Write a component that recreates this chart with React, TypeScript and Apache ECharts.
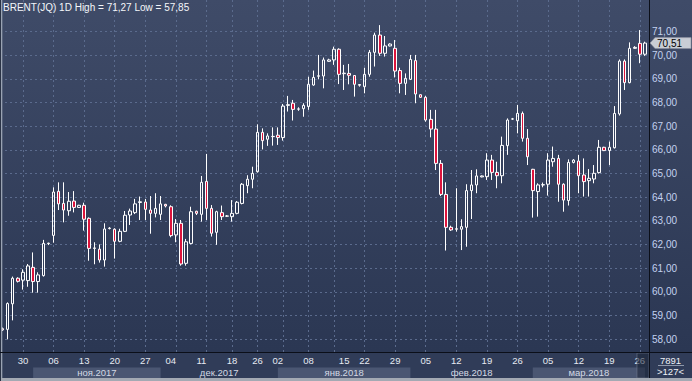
import React, { useEffect, useRef } from 'react';
import * as echarts from 'echarts';

// ---- candle data (daily, left to right) ----
const opens = [
  58.45, 58.42, 59.5, 60.58, 60.5, 60.48, 61.04, 60.44, 60.69, 62.04,
  62.39, 64.25, 63.74, 63.43, 63.84, 63.57, 63.66, 63.11, 61.84, 61.81,
  61.35, 62.68, 62.65, 62.14, 62.56, 63.25, 63.35, 63.78, 63.8, 63.46,
  63.32, 63.28, 63.7, 63.6, 62.41, 62.9, 61.21, 62.05, 63.41, 63.28,
  64.67, 63.53, 62.52, 63.35, 63.2, 63.18, 63.32, 63.74, 64.49, 64.76,
  65.08, 66.74, 66.45, 66.56, 66.62, 66.52, 67.88, 67.97, 67.72, 67.74,
  67.83, 68.74, 69.11, 69.12, 69.74, 69.8, 70.25, 69.22, 69.23, 69.14,
  68.73, 68.67, 69.19, 70.12, 70.85, 70.08, 70.39, 70.29, 69.35, 68.81,
  68.98, 69.77, 68.33, 68.22, 67.29, 66.88, 65.43, 64.12, 62.73, 62.65,
  62.65, 62.73, 64.28, 64.52, 64.86, 64.87, 65.57, 65.05, 64.91, 66.18,
  67.3, 67.23, 67.54, 66.49, 65.18, 64.24, 64.52, 64.55, 65.5, 65.64,
  64.55, 63.86, 65.47, 65.53, 64.94, 64.7, 64.77, 65.04, 66.11, 65.97,
  66.09, 67.52, 69.75, 68.84, 70.29, 70.5, 70.04,
];
const closes = [
  58.4, 59.51, 60.58, 60.45, 60.83, 61.1, 60.44, 60.72, 62.05, 62.06,
  64.22, 63.72, 63.46, 63.83, 63.57, 63.66, 63.07, 61.84, 61.86, 61.35,
  62.66, 62.7, 62.14, 62.56, 63.24, 63.42, 63.72, 63.81, 63.49, 63.32,
  63.53, 63.72, 63.63, 62.38, 62.9, 61.18, 62.12, 63.39, 63.32, 64.63,
  63.53, 62.48, 63.39, 63.18, 63.21, 63.32, 63.79, 64.55, 64.76, 65.01,
  66.74, 66.39, 66.59, 66.57, 66.52, 67.85, 67.91, 67.71, 67.73, 67.88,
  68.77, 69.06, 69.13, 69.8, 69.8, 70.25, 69.19, 69.24, 69.15, 68.77,
  68.76, 69.19, 70.12, 70.85, 70.08, 70.39, 70.47, 69.33, 68.81, 69.02,
  69.82, 68.36, 68.22, 67.26, 66.88, 65.43, 64.12, 62.73, 62.62, 62.67,
  62.76, 64.28, 64.52, 64.9, 64.9, 65.57, 65.05, 64.91, 66.19, 67.26,
  67.31, 67.54, 66.49, 65.71, 64.28, 64.52, 64.53, 65.57, 65.64, 64.55,
  63.88, 65.47, 65.57, 64.91, 64.66, 64.8, 65.01, 66.11, 65.97, 66.11,
  67.54, 69.75, 68.84, 70.29, 70.33, 70.04, 70.51,
];
const lows = [
  58.35, 58.0, 58.8, 60.4, 60.1, 60.22, 59.97, 59.97, 60.65, 61.98,
  62.08, 63.46, 62.94, 63.22, 63.36, 63.55, 62.59, 61.32, 61.17, 61.24,
  61.07, 62.64, 61.41, 62.1, 62.53, 62.83, 63.29, 63.04, 63.04, 62.46,
  63.15, 63.04, 63.57, 62.31, 62.1, 61.11, 61.11, 62.01, 63.25, 62.97,
  63.04, 62.34, 61.99, 63.04, 63.17, 62.97, 63.28, 63.7, 64.17, 64.38,
  65.04, 66.02, 66.17, 66.18, 66.21, 66.39, 67.62, 67.24, 67.65, 67.4,
  67.69, 68.71, 68.98, 68.6, 69.72, 69.59, 68.78, 68.53, 68.77, 68.25,
  68.67, 68.39, 69.09, 69.52, 69.97, 69.94, 70.37, 69.06, 68.39, 68.32,
  68.95, 67.97, 68.2, 67.19, 66.53, 65.15, 64.05, 61.75, 62.58, 62.55,
  61.77, 61.91, 63.08, 64.17, 64.84, 64.73, 64.73, 64.38, 64.59, 65.79,
  67.27, 66.7, 66.35, 65.36, 63.14, 63.18, 64.42, 64.07, 65.29, 63.81,
  63.39, 63.65, 65.43, 64.17, 64.03, 64.03, 64.59, 65.0, 65.95, 65.36,
  66.06, 67.45, 68.53, 68.81, 70.27, 69.66, 69.97,
];
const highs = [
  58.5, 59.56, 60.65, 60.62, 60.96, 61.18, 61.67, 60.83, 62.2, 62.08,
  64.42, 64.63, 64.63, 64.22, 64.26, 63.68, 63.77, 63.15, 62.1, 62.01,
  62.9, 62.74, 62.69, 62.67, 63.42, 63.52, 63.93, 64.03, 63.93, 64.05,
  64.17, 64.05, 63.72, 63.66, 63.08, 63.04, 62.24, 63.6, 63.43, 64.9,
  65.83, 63.67, 63.43, 63.65, 63.25, 63.88, 63.84, 64.6, 64.93, 65.29,
  67.08, 66.91, 66.7, 66.95, 66.95, 67.94, 68.28, 68.11, 67.8, 67.97,
  69.09, 69.35, 70.01, 69.9, 69.85, 70.36, 70.29, 69.59, 69.63, 69.16,
  68.78, 69.47, 70.22, 70.95, 71.27, 70.81, 70.5, 70.64, 69.47, 69.23,
  70.01, 70.01, 68.35, 68.28, 67.69, 67.69, 65.57, 64.63, 62.8, 64.38,
  63.07, 64.55, 65.15, 65.18, 64.92, 65.86, 65.79, 65.5, 66.56, 67.33,
  67.35, 67.9, 67.62, 66.88, 65.2, 64.59, 64.62, 65.86, 66.14, 65.79,
  64.59, 65.6, 65.61, 65.79, 65.64, 65.19, 65.36, 66.42, 66.13, 66.35,
  67.85, 69.82, 69.82, 70.54, 70.38, 71.06, 70.57,
];

// ---- axis ticks / labels ----
const priceTicks = [58, 59, 60, 61, 62, 63, 64, 65, 66, 67, 68, 69, 70, 71];
const dateLabelIdx = [4, 10, 16, 22, 28, 33, 39, 45, 50, 54, 60, 67, 71, 77, 83, 89, 95, 101, 107, 113, 119, 125];
const dateLabels = ['30', '06', '13', '20', '27', '04', '11', '18', '26', '02', '08', '15', '22', '29', '05', '12', '19', '26', '05', '12', '19', '26'];
const weekGridIdx = [4, 10, 16, 22, 28, 34, 40, 45, 50, 55, 60, 65, 71, 77, 83, 89, 95, 101, 107, 113, 119, 125];
const monthNames = ['ноя.2017', 'дек.2017', 'янв.2018', 'фев.2018', 'мар.2018'];
const monthStart = [6, 31, 54, 80, 104];
const monthEnd = [31, 54, 80, 104, 126];
const monthShaded = [true, false, true, false, true];

const titleName = 'BRENT(JQ) 1D';
const titleHigh = 71.27;
const titleLow = 57.85;
const footerCode = '7891';

const FONT = '"Liberation Sans", Arial, sans-serif';
const fmt = (v: number) => v.toFixed(2).replace('.', ',');

export default function App() {
  const ref = useRef<HTMLDivElement>(null);

  useEffect(() => {
    if (!ref.current) return;
    const chart = echarts.init(ref.current, undefined, { renderer: 'svg' });
    const cats = opens.map((_, i) => String(i));
    const candleData = opens.map((o, i) => [o, closes[i], lows[i], highs[i]]);
    const last = closes.length - 1;
    const lastClose = closes[last];

    const option: any = {
      animation: false,
      backgroundColor: 'transparent',
      textStyle: { fontFamily: FONT },
      title: {
        text: `${titleName} High = ${fmt(titleHigh)} Low = ${fmt(titleLow)}`,
        left: 3,
        top: 2,
        padding: 0,
        textStyle: { color: '#f4f6fa', fontSize: 10, fontWeight: 'normal', fontFamily: FONT },
      },
      grid: [
        { left: 0, right: 44.5, top: 0, height: 352 },
        { left: 0, right: 44.5, top: 367.5, height: 10.5 },
      ],
      xAxis: [
        {
          type: 'category',
          data: cats,
          gridIndex: 0,
          boundaryGap: true,
          z: 10,
          axisLine: { show: false },
          axisTick: { show: false },
          splitLine: { show: false },
          axisLabel: {
            interval: (i: number) => dateLabelIdx.includes(i),
            formatter: (v: string) => {
              const k = dateLabelIdx.indexOf(Number(v));
              return k >= 0 ? dateLabels[k] : '';
            },
            color: '#e6eaf2',
            fontSize: 9.5,
            margin: 3.5,
            fontFamily: FONT,
          },
        },
        { type: 'category', data: cats, gridIndex: 1, boundaryGap: true, show: false },
      ],
      yAxis: [
        {
          type: 'value',
          position: 'right',
          min: 57.465,
          max: 72.33,
          minInterval: 1,
          maxInterval: 1,
          offset: 2,
          z: 10,
          axisLine: { show: true, lineStyle: { color: '#0b0f19', width: 1 } },
          axisTick: { show: false },
          splitLine: { show: false },
          axisLabel: {
            showMinLabel: false,
            showMaxLabel: false,
            margin: 2.5,
            color: '#c3d2f0',
            fontSize: 10,
            fontFamily: FONT,
            formatter: (v: number) => (priceTicks.includes(v) ? fmt(v) : ''),
          },
        },
        { type: 'value', gridIndex: 1, min: 0, max: 1, show: false },
      ],
      series: [
        {
          type: 'candlestick',
          xAxisIndex: 0,
          yAxisIndex: 0,
          data: candleData,
          barWidth: 3,
          itemStyle: {
            color: 'transparent',
            color0: '#dc143c',
            borderColor: '#ffffff',
            borderColor0: '#ffffff',
            borderWidth: 1,
          },
          markLine: {
            silent: true,
            z: 1,
            symbol: ['none', 'none'],
            label: { show: false },
            lineStyle: { color: '#5b6b8d', type: [2, 3], width: 1 },
            data: [
              ...priceTicks.map((v) => ({ yAxis: v })),
              ...weekGridIdx.map((i) => ({ xAxis: i })),
            ],
          },
          markPoint: {
            silent: true,
            z: 12,
            symbol: 'path://M0,5L5,0L41,0L41,10L5,10Z',
            symbolSize: [41, 11],
            symbolKeepAspect: false,
            symbolOffset: [25.6, 0],
            itemStyle: { color: '#c9cdd5', borderColor: '#8a919e', borderWidth: 0.5 },
            label: {
              show: true,
              position: 'inside',
              offset: [-1, 0.5],
              color: '#000000',
              fontSize: 10,
              fontFamily: FONT,
              formatter: () => fmt(lastClose),
            },
            data: [{ coord: [last, lastClose], value: lastClose }],
          },
        },
        {
          type: 'line',
          xAxisIndex: 1,
          yAxisIndex: 1,
          data: [],
          silent: true,
          markArea: {
            silent: true,
            label: { show: true, position: 'inside', color: '#d3d9e4', fontSize: 9.5, fontFamily: FONT },
            data: monthNames.map((name, k) => [
              { name, xAxis: monthStart[k], itemStyle: { color: monthShaded[k] ? '#4a5672' : 'rgba(0,0,0,0)' } },
              { xAxis: monthEnd[k] },
            ]),
          },
        },
      ],
      graphic: {
        elements: [
          { type: 'rect', z: -5, silent: true, shape: { x: 0, y: 352, width: 692, height: 29 }, style: { fill: '#303c58' } },
          { type: 'rect', z: 20, silent: true, shape: { x: 0, y: 378, width: 692, height: 3 }, style: { fill: '#a3a9b3' } },
          { type: 'rect', z: 20, silent: true, shape: { x: 0, y: 0, width: 1, height: 381 }, style: { fill: '#2a3346' } },
          { type: 'rect', z: 20, silent: true, shape: { x: 1, y: 0, width: 1.3, height: 378 }, style: { fill: '#9aa3b3' } },
          { type: 'line', z: 20, silent: true, shape: { x1: 0, y1: 352.5, x2: 692, y2: 352.5 }, style: { stroke: '#0b0f19', lineWidth: 1 } },
          { type: 'line', z: 20, silent: true, shape: { x1: 649.5, y1: 352, x2: 649.5, y2: 378 }, style: { stroke: '#0b0f19', lineWidth: 1 } },
          { type: 'rect', z: 15, silent: true, shape: { x: 637, y: 353, width: 12, height: 25 }, style: { fill: 'rgba(28,36,54,0.55)', stroke: 'rgba(120,130,150,0.5)', lineWidth: 1 } },
          { type: 'text', z: 20, silent: true, style: { text: footerCode, x: 670.5, y: 360, fill: '#eef1f6', font: `9.5px ${FONT}`, textAlign: 'center', textVerticalAlign: 'middle' } },
          { type: 'line', z: 20, silent: true, shape: { x1: 658, y1: 365.5, x2: 684, y2: 365.5 }, style: { stroke: '#8e98ab', lineWidth: 1 } },
          { type: 'text', z: 20, silent: true, style: { text: `>${opens.length}<`, x: 670.5, y: 371.5, fill: '#eef1f6', font: `9.5px ${FONT}`, textAlign: 'center', textVerticalAlign: 'middle' } },
        ],
      },
    };

    chart.setOption(option);
    return () => chart.dispose();
  }, []);

  return (
    <div
      ref={ref}
      style={{
        position: 'fixed',
        left: 0,
        top: 0,
        width: 692,
        height: 381,
        background: 'linear-gradient(to bottom, #3f4b68 0%, #2b3753 92%, #2b3753 100%)',
      }}
    />
  );
}
